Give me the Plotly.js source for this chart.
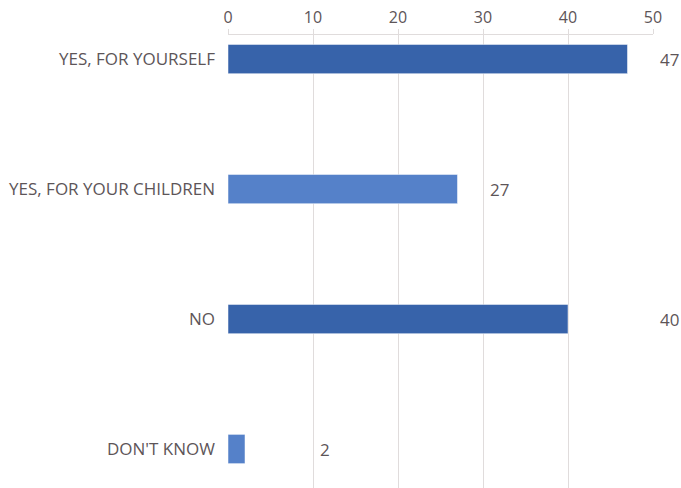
<!DOCTYPE html>
<html><head><meta charset="utf-8">
<script src="https://cdn.plot.ly/plotly-3.0.1.min.js"></script>
<style>html,body{margin:0;padding:0;background:#fff}#chart{width:681px;height:488px}</style>
</head><body><div id="chart"></div>
<script>
var categories = ["YES, FOR YOURSELF", "YES, FOR YOUR CHILDREN", "NO", "DON'T KNOW"];
var values = [47, 27, 40, 2];
var barColors = ["#3763aa", "#5581c9", "#3763aa", "#5581c9"];
var tickVals = [0, 10, 20, 30, 40, 50];

var textColor = "#5d5558";
var font = "Open Sans, DejaVu Sans, sans-serif";

var annotations = values.map(function (v, i) {
  return {
    x: (Math.floor(v / 10) + 1) * 10, y: categories[i], xref: "x", yref: "y",
    text: String(v), showarrow: false, xanchor: "left", xshift: 5,
    font: {family: font, size: 17, color: textColor}
  };
});

var data = [{
  type: "bar", orientation: "h",
  x: values, y: categories,
  marker: {color: barColors, line: {color: "#ffffff", width: 0.5}},
  width: 0.225, hoverinfo: "none"
}];

var layout = {
  width: 681, height: 488,
  margin: {l: 228, r: 27.5, t: 35, b: 0, pad: 0},
  paper_bgcolor: "#fff", plot_bgcolor: "#fff",
  showlegend: false,
  font: {family: font, color: textColor},
  xaxis: {
    side: "top", range: [0, 50], tickvals: tickVals, ticktext: tickVals.map(String),
    showgrid: true, gridcolor: "#e0dcdc", gridwidth: 1,
    showline: true, linecolor: "#e0dcdc", linewidth: 1,
    ticks: "outside", ticklen: 5, tickcolor: "#e0dcdc",
    tickfont: {family: font, size: 16, color: textColor},
    zeroline: false, fixedrange: true
  },
  yaxis: {
    type: "category", range: [3.3, -0.185],
    showgrid: false, zeroline: false, showline: false, ticks: "",
    ticklabelstandoff: 12,
    tickfont: {family: font, size: 17, color: textColor}, fixedrange: true
  },
  annotations: annotations
};

Plotly.newPlot("chart", data, layout, {displayModeBar: false, staticPlot: true});
</script></body></html>
